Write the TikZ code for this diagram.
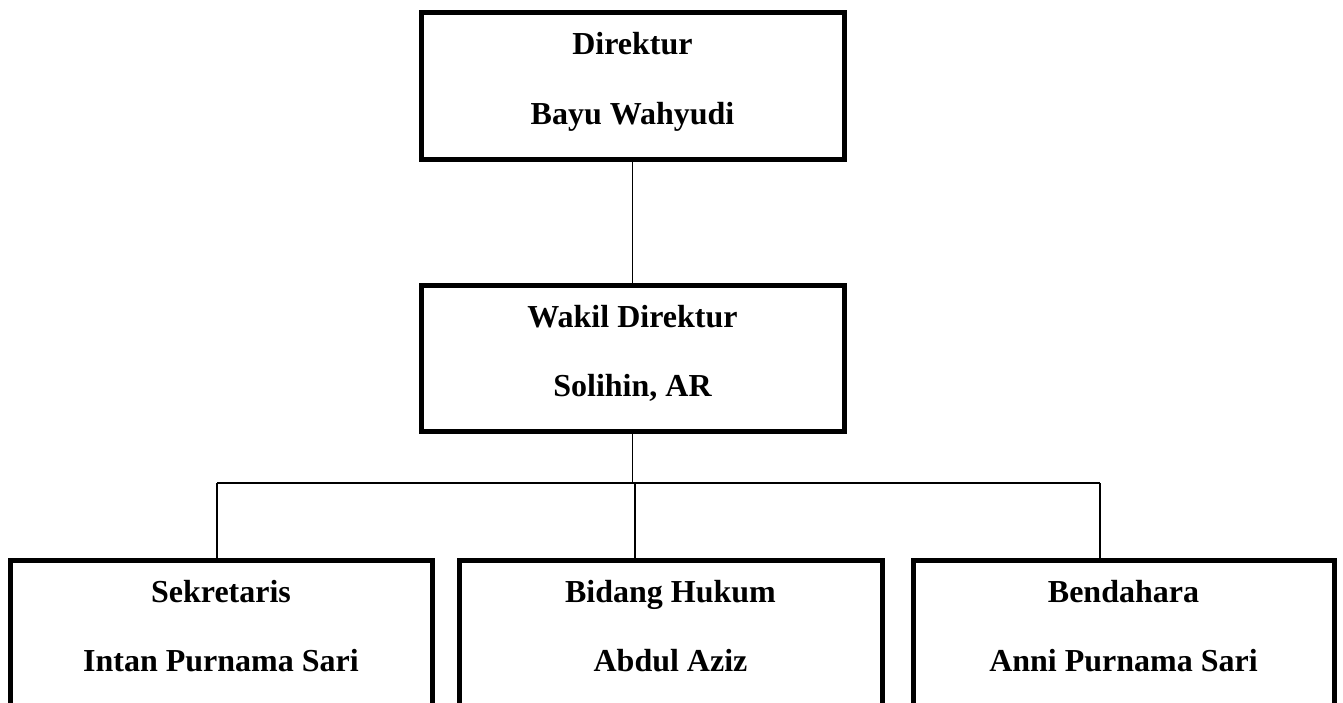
\documentclass[tikz,border=0pt]{standalone}
\usepackage{fontspec}
\setmainfont{Liberation Serif}
\begin{document}
\begin{tikzpicture}[x=1pt,y=-1pt,
  box/.style={draw,line width=5pt,minimum width=423pt,minimum height=146.5pt,inner sep=0pt,outer sep=0pt},
  role/.style={font=\fontsize{32}{38}\selectfont\bfseries,anchor=base,inner sep=0pt},
  conn/.style={line width=1.5pt}]
\useasboundingbox (0,0) rectangle (1343,702);
\node[box] (dir) at (632.5,85.75) {};
\node[box] (wak) at (632.5,358.5) {};
\node[box,minimum width=422pt] (sek) at (221,633.25) {};
\node[box] (huk) at (670.5,633.25) {};
\node[box,minimum width=421pt] (ben) at (1123.5,633.25) {};
\foreach \b/\ta/\tb in {dir/Direktur/Bayu Wahyudi, wak/Wakil Direktur/{Solihin, AR}, sek/Sekretaris/Intan Purnama Sari, huk/Bidang Hukum/Abdul Aziz, ben/Bendahara/Anni Purnama Sari}{
  \node[role] (\b a) at ([yshift=-42pt]\b.north) {\ta};
  \node[role] (\b b) at ([yshift=-111.5pt]\b.north) {\tb};
}
\coordinate (busL) at (217,483);
\coordinate (busR) at (1100,483);
\coordinate (dm) at (635,483);
\draw[conn] (dir.south) -- (wak.north);
\draw[conn] (wak.south) -- (wak.south |- busL);
\draw[conn] (busL) -- (busR);
\draw[conn] (busL) -- (busL |- sek.north);
\draw[conn] (dm) -- (dm |- huk.north);
\draw[conn] (busR) -- (busR |- ben.north);
\end{tikzpicture}
\end{document}
